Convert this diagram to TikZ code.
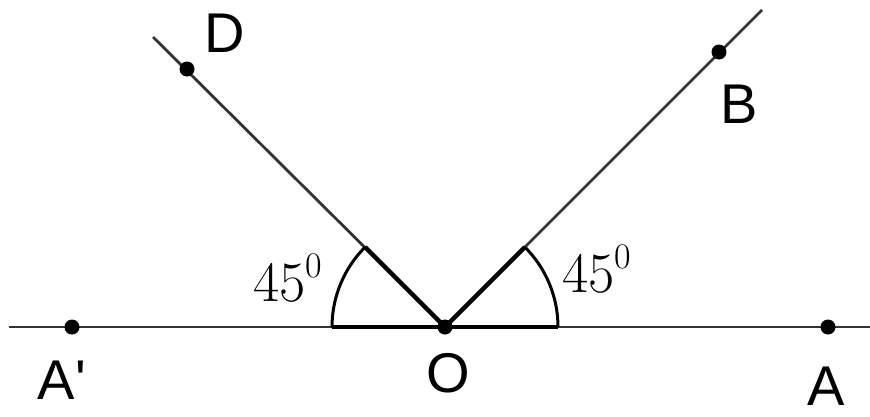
\documentclass[tikz,border=0pt]{standalone}
\usepackage{fontspec}
\setmainfont{Liberation Sans}
\newfontfamily\lmr{Latin Modern Roman}
\newcommand{\degsup}{{\lmr 45\raisebox{0.42em}{\fontsize{36}{36}\selectfont 0}}}
\begin{document}
\begin{tikzpicture}[x=1pt,y=-1pt,
  thinline/.style={line width=2.8pt,black!80},
  thickline/.style={line width=4.4pt,black},
  dot/.style={circle,fill=black,inner sep=0pt,minimum size=15pt},
  lbl/.style={inner sep=0pt,font=\fontsize{56}{60}\selectfont},
  anglbl/.style={inner sep=0pt,font=\fontsize{57}{60}\selectfont}]
\useasboundingbox (0,0) rectangle (870,416);
\fill[white] (0,0) rectangle (870,416);
% points
\coordinate (O) at (445,327);
\coordinate (Lend) at (9,327);
\coordinate (Rend) at (870,327);
\coordinate (Dend) at (153,37);
\coordinate (Bend) at (762,10);
% lines
\draw[thinline] (Lend) -- (Rend);
\draw[thinline] (O) -- (Dend);
\draw[thinline] (O) -- (Bend);
% thick angle marks
\draw[thickline] (332,327) -- (558,327);
\draw[thickline] (O) -- ++(-79.9,-79.9);
\draw[thickline] (O) -- ++(79.9,-79.9);
\draw[line width=3pt] (558,327) arc[start angle=0,end angle=-45,radius=113];
\draw[line width=3pt] (332,327) arc[start angle=180,end angle=225,radius=113];
% dots
\node[dot] (nO) at (O) {};
\node[dot] (nA) at (828,327) {};
\node[dot] (nAp) at (72,327) {};
\node[dot] (nD) at (187,69) {};
\node[dot] (nB) at (719,52) {};
% labels
\node[lbl] (tD) at (225,33) {D};
\node[lbl] (tB) at (739,104) {B};
\node[lbl] (tAp) at (62,380) {A\textquotesingle};
\node[lbl] (tA) at (826,386) {A};
\node[lbl] (tO) at (448,373) {O};
\node[anglbl] (t1) at (287.5,278.5) {\degsup};
\node[anglbl] (t2) at (597,269) {\degsup};
\end{tikzpicture}
\end{document}
